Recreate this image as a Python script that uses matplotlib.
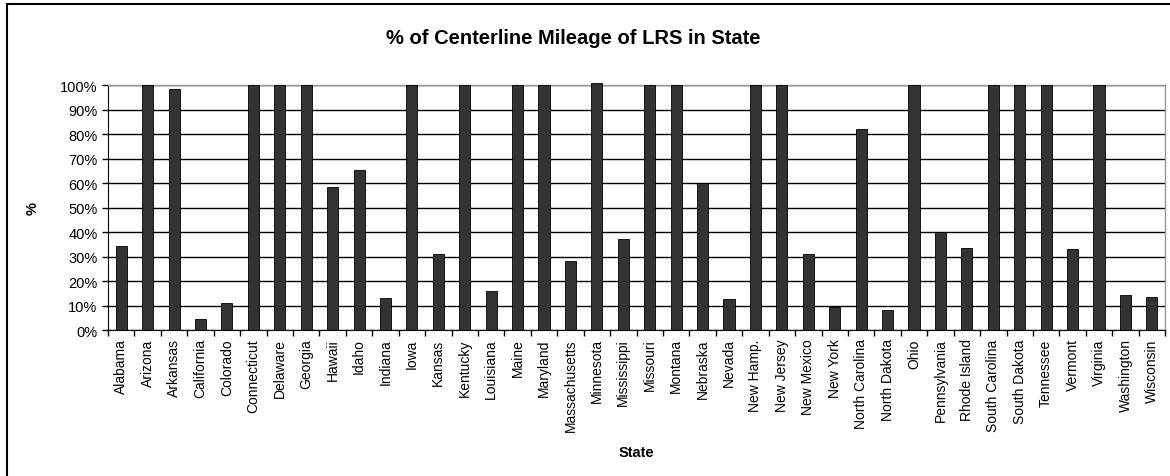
import matplotlib
matplotlib.use("Agg")
import matplotlib.pyplot as plt
from matplotlib.ticker import FixedLocator, PercentFormatter
from matplotlib.lines import Line2D

states = ["Alabama", "Arizona", "Arkansas", "California", "Colorado", "Connecticut",
          "Delaware", "Georgia", "Hawaii", "Idaho", "Indiana", "Iowa", "Kansas",
          "Kentucky", "Louisiana", "Maine", "Maryland", "Massachusetts", "Minnesota",
          "Mississippi", "Missouri", "Montana", "Nebraska", "Nevada", "New Hamp.",
          "New Jersey", "New Mexico", "New York", "North Carolina", "North Dakota",
          "Ohio", "Pennsylvania", "Rhode Island", "South Carolina", "South Dakota",
          "Tennessee", "Vermont", "Virginia", "Washington", "Wisconsin"]
pct = [34.5, 100, 98.5, 4.5, 11.2, 100, 100, 100, 58.3, 65.3, 13, 100, 31.2,
       100, 16, 100, 100, 28.3, 100.8, 37.2, 100, 100, 60, 12.5, 100,
       100, 31, 9.5, 82, 8.2, 100, 40, 33.3, 100, 100,
       100, 33, 100, 14.3, 13.3]

plt.rcParams['font.family'] = ['Liberation Sans', 'DejaVu Sans']

fig = plt.figure(figsize=(11.7, 4.77), dpi=100)
ax = fig.add_axes([0.0923, 0.306, 0.9035, 0.5137])

x = list(range(len(states)))
ax.bar(x, pct, width=0.42, color='#333333', edgecolor='black', linewidth=0.6,
       zorder=3, clip_on=False)

ax.set_xlim(-0.5, len(states) - 0.5)
ax.set_ylim(0, 100)
ax.yaxis.set_major_locator(FixedLocator(range(0, 101, 10)))
ax.yaxis.set_major_formatter(PercentFormatter(decimals=0))
ax.grid(axis='y', color='black', linewidth=1, zorder=0)

ax.set_xticks(x)
ax.set_xticklabels(states, rotation=90, fontsize=10)
ax.tick_params(axis='x', which='major', length=0, pad=6)
ax.set_xticks([i - 0.5 for i in range(len(states) + 1)], minor=True)
ax.tick_params(axis='x', which='minor', length=4, width=1, direction='out')
ax.tick_params(axis='y', labelsize=10.5, length=4, width=1, direction='out')

for s in ['top', 'right']:
    ax.spines[s].set_color('#999999')
    ax.spines[s].set_linewidth(1)
ax.spines['left'].set_color('black')
ax.spines['bottom'].set_color('black')

ax.set_ylabel('%', fontsize=10.5, fontweight='bold')
ax.yaxis.set_label_coords(-0.065, 0.5)
ax.set_xlabel('State', fontsize=10.5, fontweight='bold')
ax.xaxis.set_label_coords(0.5, -0.47)

fig.text(573 / 1170, 1 - 38 / 477, '% of Centerline Mileage of LRS in State', ha='center',
         va='center', fontsize=14.5, fontweight='bold')

fig.lines.append(Line2D([6.5 / 1170, 6.5 / 1170], [0, 1 - 4.5 / 477],
                        transform=fig.transFigure, color='black', linewidth=1.5))
fig.lines.append(Line2D([6.5 / 1170, 1], [1 - 4.5 / 477, 1 - 4.5 / 477],
                        transform=fig.transFigure, color='black', linewidth=1.5))

fig.savefig('out.png', dpi=100)
